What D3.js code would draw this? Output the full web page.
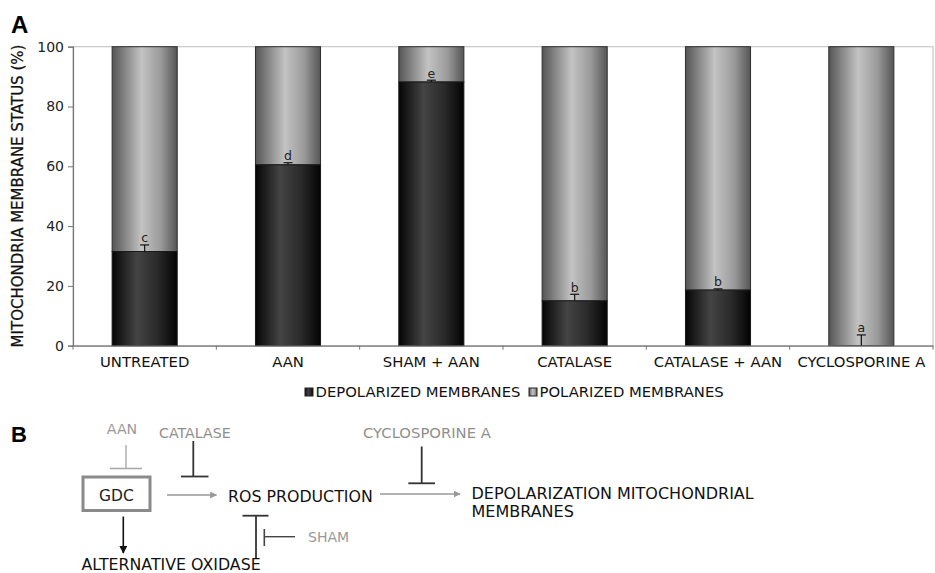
<!DOCTYPE html>
<html>
<head>
<meta charset="utf-8">
<script src="https://cdn.jsdelivr.net/npm/d3@7/dist/d3.min.js"></script>
<style>
  html, body { margin: 0; padding: 0; background: #fff; }
  svg { display: block; font-family: "DejaVu Sans", Verdana, sans-serif; }
</style>
</head>
<body>
<svg id="fig" width="935" height="573"></svg>
<script>
// Panel A data: share of mitochondria per membrane state, by treatment
const categories = ["UNTREATED", "AAN", "SHAM + AAN", "CATALASE", "CATALASE + AAN", "CYCLOSPORINE A"];
const depolarized = [31.5, 60.5, 88.2, 15.0, 18.6, 0];
const polarized = [68.5, 39.5, 11.8, 85.0, 81.4, 100];
const errorUp = [2.2, 0.7, 0.6, 2.2, 0.4, 3.6];
const groupLetters = ["c", "d", "e", "b", "b", "a"];
const yTicks = [0, 20, 40, 60, 80, 100];
const seriesNames = ["DEPOLARIZED MEMBRANES", "POLARIZED MEMBRANES"];

const svg = d3.select("#fig");

// gradients giving the bars their cylindrical shading
const defs = svg.append("defs");
function grad(id, stops) {
  const g = defs.append("linearGradient").attr("id", id)
    .attr("x1", "0%").attr("x2", "100%").attr("y1", "0%").attr("y2", "0%");
  stops.forEach(([o, c]) => g.append("stop").attr("offset", o).attr("stop-color", c));
}
grad("gDep", [["0%", "#050505"], ["38%", "#444444"], ["70%", "#2a2a2a"], ["100%", "#030303"]]);
grad("gPol", [["0%", "#555555"], ["45%", "#c3c3c3"], ["75%", "#9a9a9a"], ["100%", "#555555"]]);

const plotLeft = 73, plotRight = 933, plotTop = 46.7, plotBottom = 345.7;

const x = d3.scaleBand().domain(categories).range([plotLeft, plotRight])
  .paddingInner(0.546).paddingOuter(0.273);
const y = d3.scaleLinear().domain([0, 100]).range([plotBottom, plotTop]);

// plot frame
svg.append("rect").attr("x", plotLeft).attr("y", plotTop)
  .attr("width", plotRight - plotLeft).attr("height", plotBottom - plotTop)
  .attr("fill", "none").attr("stroke", "#c8c8c8").attr("stroke-width", 1.2);

// stacked bars
const stack = categories.map((c, i) => ({ c, dep: depolarized[i], pol: polarized[i], err: errorUp[i], lab: groupLetters[i] }));
const bars = svg.append("g");
bars.selectAll("rect.pol").data(stack).join("rect").attr("class", "pol")
  .attr("x", d => x(d.c)).attr("width", x.bandwidth())
  .attr("y", d => y(d.dep + d.pol)).attr("height", d => y(d.dep) - y(d.dep + d.pol))
  .attr("fill", "url(#gPol)").attr("stroke", "#2e2e2e").attr("stroke-width", 1);
bars.selectAll("rect.dep").data(stack.filter(d => d.dep > 0)).join("rect").attr("class", "dep")
  .attr("x", d => x(d.c)).attr("width", x.bandwidth())
  .attr("y", d => y(d.dep)).attr("height", d => y(0) - y(d.dep))
  .attr("fill", "url(#gDep)").attr("stroke", "#1a1a1a").attr("stroke-width", 1);

// error bars (upper half) and group letters
const eb = svg.append("g").attr("stroke", "#111").attr("stroke-width", 1.2);
stack.forEach(d => {
  const cx = x(d.c) + x.bandwidth() / 2;
  eb.append("line").attr("x1", cx).attr("x2", cx).attr("y1", y(d.dep)).attr("y2", y(d.dep + d.err));
  eb.append("line").attr("x1", cx - 4.5).attr("x2", cx + 4.5).attr("y1", y(d.dep + d.err)).attr("y2", y(d.dep + d.err));
  svg.append("text").attr("x", cx).attr("y", y(d.dep + d.err) - 2.5)
    .attr("text-anchor", "middle").attr("font-size", 12.5).attr("fill", "#222").text(d.lab);
});

// y axis
const yAxis = svg.append("g").attr("transform", `translate(${plotLeft},0)`)
  .call(d3.axisLeft(y).tickValues(yTicks).tickSize(5).tickPadding(4));
yAxis.select(".domain").attr("stroke", "#777").attr("stroke-width", 1.2);
yAxis.selectAll(".tick line").attr("stroke", "#777");
yAxis.selectAll(".tick text").attr("font-size", 14).attr("fill", "#222")
  .attr("font-family", "DejaVu Sans, Verdana, sans-serif");

// x axis: labels under bars, tick marks between categories
const xAxis = svg.append("g").attr("transform", `translate(0,${plotBottom})`)
  .call(d3.axisBottom(x).tickSize(0).tickPadding(11));
xAxis.select(".domain").attr("stroke", "#777").attr("stroke-width", 1.2);
xAxis.selectAll(".tick text").attr("font-size", 14.8).attr("fill", "#111")
  .attr("font-family", "DejaVu Sans, Verdana, sans-serif");
d3.range(categories.length + 1).forEach(i => {
  const tx = plotLeft + i * x.step();
  svg.append("line").attr("x1", tx).attr("x2", tx).attr("y1", plotBottom).attr("y2", plotBottom + 4)
    .attr("stroke", "#777").attr("stroke-width", 1);
});

// y axis title
svg.append("text").attr("transform", `translate(23,196) rotate(-90)`)
  .attr("text-anchor", "middle").attr("font-size", 15).attr("fill", "#111")
  .attr("stroke", "#111").attr("stroke-width", 0.25)
  .text("MITOCHONDRIA MEMBRANE STATUS (%)");

// legend
const legend = svg.append("g");
const legendX = [305, 529];
const legendFill = ["url(#gDep)", "url(#gPol)"];
seriesNames.forEach((name, i) => {
  legend.append("rect").attr("x", legendX[i]).attr("y", 388).attr("width", 8).attr("height", 8)
    .attr("fill", legendFill[i]).attr("stroke", "#222").attr("stroke-width", 1);
  legend.append("text").attr("x", legendX[i] + 10.5).attr("y", 396.5)
    .attr("font-size", 14.8).attr("fill", "#111").text(name);
});

// panel letters
svg.append("text").attr("x", 11).attr("y", 32.5).attr("font-size", 24).attr("font-weight", "bold")
  .attr("font-family", "Liberation Sans, Arial, sans-serif").attr("fill", "#000").text("A");
svg.append("text").attr("x", 11).attr("y", 442).attr("font-size", 22).attr("font-weight", "bold")
  .attr("font-family", "Liberation Sans, Arial, sans-serif").attr("fill", "#000").text("B");

// Panel B: pathway scheme
const scheme = svg.append("g");
defs.append("marker").attr("id", "arrGray").attr("viewBox", "0 0 10 10").attr("refX", 9).attr("refY", 5)
  .attr("markerWidth", 7).attr("markerHeight", 7).attr("markerUnits", "userSpaceOnUse").attr("orient", "auto")
  .append("path").attr("d", "M0,0 L10,5 L0,10 z").attr("fill", "#999");
defs.append("marker").attr("id", "arrBlack").attr("viewBox", "0 0 10 10").attr("refX", 9).attr("refY", 5)
  .attr("markerWidth", 8).attr("markerHeight", 8).attr("markerUnits", "userSpaceOnUse").attr("orient", "auto")
  .append("path").attr("d", "M0,0 L10,5 L0,10 z").attr("fill", "#111");

function txt(xp, yp, s, size, fill, anchor) {
  scheme.append("text").attr("x", xp).attr("y", yp).attr("font-size", size)
    .attr("fill", fill).attr("text-anchor", anchor || "start").text(s);
}
function seg(x1, y1, x2, y2, stroke, w, marker) {
  const l = scheme.append("line").attr("x1", x1).attr("y1", y1).attr("x2", x2).attr("y2", y2)
    .attr("stroke", stroke).attr("stroke-width", w);
  if (marker) l.attr("marker-end", `url(#${marker})`);
}

// inhibitor labels
txt(122, 433.5, "AAN", 14.2, "#9a9a9a", "middle");
txt(159, 437.5, "CATALASE", 14.2, "#8f8f8f");
txt(363, 438, "CYCLOSPORINE A", 14.8, "#8f8f8f");
txt(308, 541.5, "SHAM", 14, "#9a9a9a");

// GDC box
scheme.append("rect").attr("x", 83).attr("y", 477).attr("width", 67).attr("height", 33.5)
  .attr("fill", "none").attr("stroke", "#8a8a8a").attr("stroke-width", 3);
txt(116.5, 501, "GDC", 15.5, "#222", "middle");

// main text nodes
txt(228, 502, "ROS PRODUCTION", 15.8, "#111");
txt(471.5, 498.5, "DEPOLARIZATION MITOCHONDRIAL", 16, "#111");
txt(471.5, 517, "MEMBRANES", 16, "#111");
txt(81.5, 570, "ALTERNATIVE OXIDASE", 15.8, "#111");

// AAN inhibition of GDC
seg(126, 445, 126, 468.5, "#aaa", 1.4);
seg(110, 468.5, 142, 468.5, "#aaa", 1.6);
// catalase inhibition
seg(193.3, 441, 193.3, 476.5, "#333", 1.8);
seg(181, 476.5, 208.5, 476.5, "#333", 1.8);
// cyclosporine inhibition
seg(421.7, 446.5, 421.7, 483.3, "#333", 1.8);
seg(408.3, 483.3, 435, 483.3, "#333", 1.8);
// arrows
seg(167, 495, 216.5, 495, "#999", 1.5, "arrGray");
seg(380, 494, 460, 494, "#999", 1.5, "arrGray");
seg(123.3, 516.5, 123.3, 553, "#111", 1.6, "arrBlack");
// alternative oxidase inhibits ROS production
seg(256, 515.7, 256, 558, "#333", 1.8);
seg(242.5, 515.7, 268.5, 515.7, "#333", 1.8);
// SHAM inhibits alternative oxidase
seg(264.3, 529, 264.3, 546, "#444", 1.6);
seg(264.3, 536.7, 295, 536.7, "#444", 1.4);
</script>
</body>
</html>
